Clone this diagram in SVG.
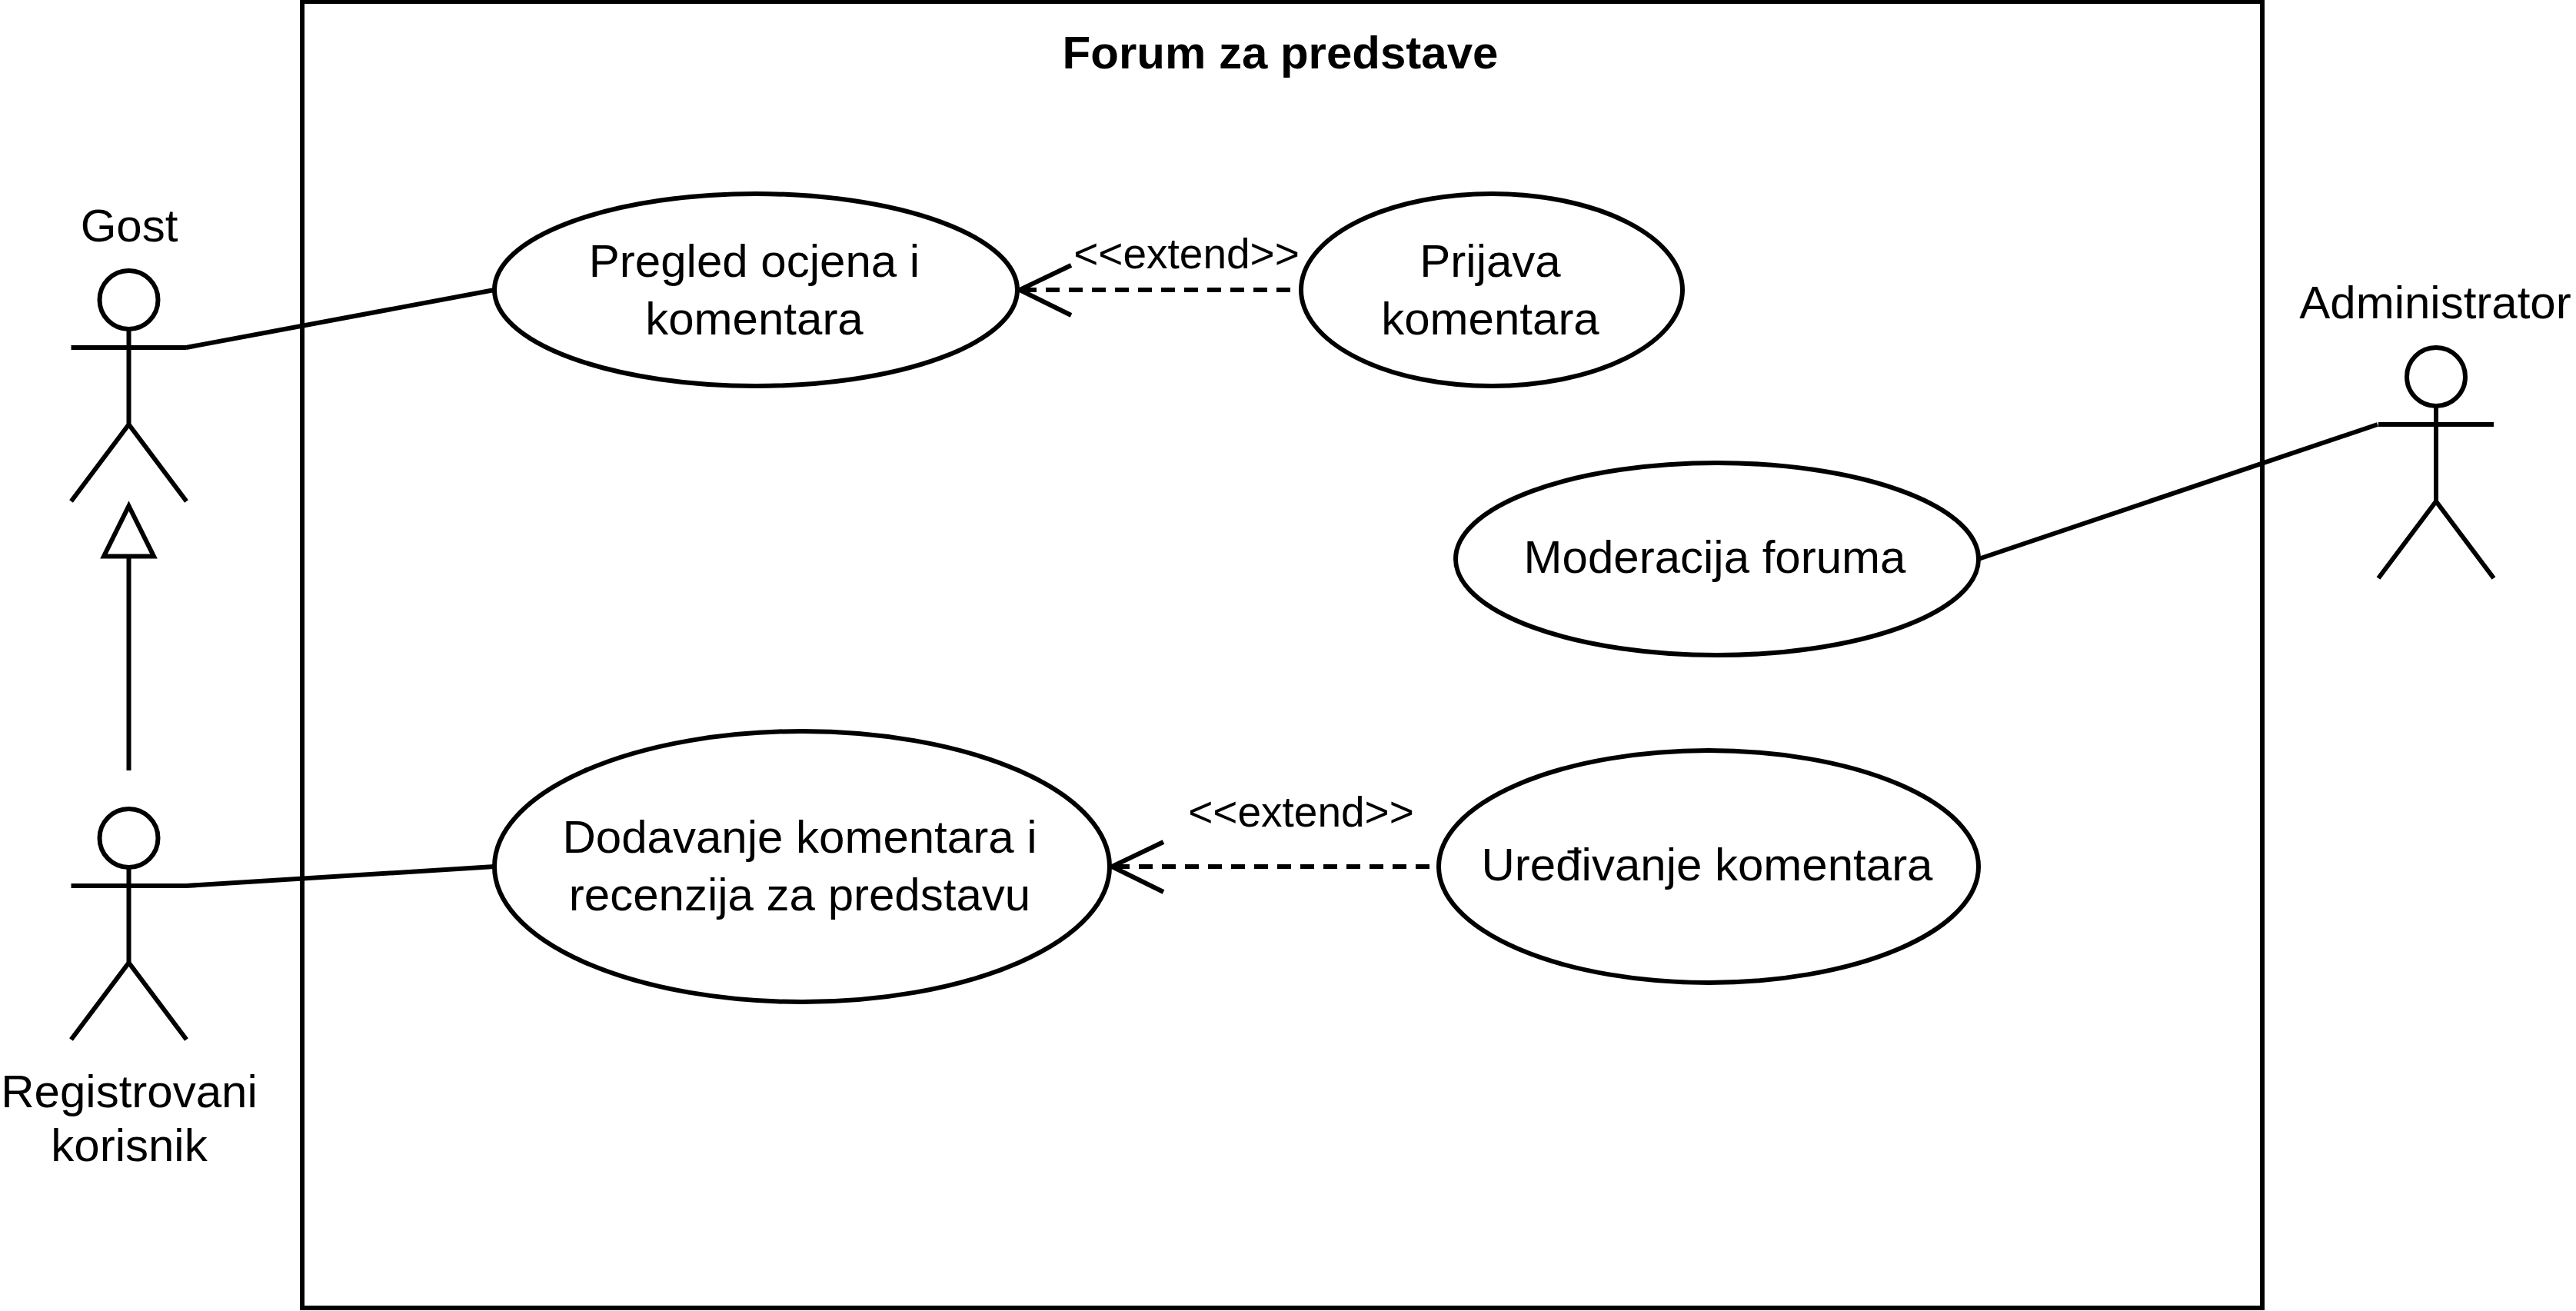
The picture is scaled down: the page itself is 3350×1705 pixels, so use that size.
<svg xmlns="http://www.w3.org/2000/svg" width="3350" height="1705" viewBox="0 0 3350 1705">
<style>
.s{fill:none;stroke:#000;stroke-width:6;stroke-linecap:butt;stroke-linejoin:miter}
.e{fill:#fff;stroke:#000;stroke-width:6}
text{font-family:"Liberation Sans",Arial,sans-serif;font-size:60px;fill:#000;text-anchor:middle}
.l{font-size:55px}
.t{font-weight:700}
.d{stroke-dasharray:18 12}
</style>
<defs>
<g id="actor" class="s"><ellipse cx="0" cy="39" rx="38" ry="38"/><path d="M0 78V201M-75 101H75M0 201L-75 301M0 201L75 301"/></g>
</defs>
<rect width="3350" height="1705" fill="#fff"/>
<g id="system"><rect class="s" x="393" y="2" width="2549" height="1699"/><text class="t" x="1665" y="89">Forum za predstave</text></g>
<g id="connectors">
<path class="s" d="M242 452L643 377"/>
<path class="s" d="M242 1152L643 1127"/>
<path class="s" d="M3092 552L2573 727"/>
<path class="s" d="M167.5 1002V724"/>
<path class="s" d="M167.5 658L200 723.5H135Z"/>
<path class="s d" d="M1678 377H1324"/>
<path class="s" d="M1393 345L1326 377L1393 410"/>
<path class="s d" d="M1859 1127H1444"/>
<path class="s" d="M1513 1095L1446 1127L1513 1160"/>
<text class="l" x="1543" y="349">&lt;&lt;extend&gt;&gt;</text>
<text class="l" x="1692" y="1075">&lt;&lt;extend&gt;&gt;</text>
</g>
<g id="gost"><use href="#actor" x="167.5" y="351"/><text x="168" y="314">Gost</text></g>
<g id="registrovani"><use href="#actor" x="167.5" y="1051"/><text x="168" y="1440">Registrovani</text><text x="168" y="1510">korisnik</text></g>
<g id="administrator"><use href="#actor" x="3168" y="451"/><text x="3167" y="414">Administrator</text></g>
<g id="pregled"><ellipse class="e" cx="983" cy="377" rx="340" ry="125"/><text x="981" y="360">Pregled ocjena i</text><text x="981" y="435">komentara</text></g>
<g id="prijava"><ellipse class="e" cx="1940" cy="377" rx="248" ry="125"/><text x="1938" y="360">Prijava</text><text x="1938" y="435">komentara</text></g>
<g id="moderacija"><ellipse class="e" cx="2233" cy="727" rx="340" ry="125"/><text x="2230" y="745">Moderacija foruma</text></g>
<g id="dodavanje"><ellipse class="e" cx="1043" cy="1127" rx="400" ry="176"/><text x="1040" y="1109">Dodavanje komentara i</text><text x="1040" y="1184">recenzija za predstavu</text></g>
<g id="uredjivanje"><ellipse class="e" cx="2222" cy="1127" rx="351" ry="151"/><text x="2220" y="1145">Uređivanje komentara</text></g>
</svg>
